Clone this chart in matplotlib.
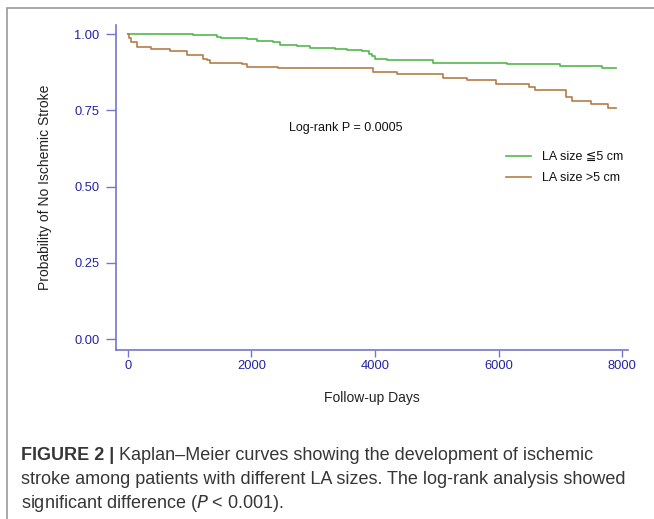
import matplotlib.pyplot as plt
from matplotlib.patches import Rectangle

# Kaplan-Meier step data (days, survival)
small_days = [0, 1050, 1440, 1500, 1570, 1930, 2090, 2350, 2460, 2740, 2950, 3240,
              3350, 3550, 3790, 3900, 3950, 4000, 4190, 4940, 6140, 6990, 7680, 7900]
small_surv = [1.0, 0.997, 0.992, 0.988, 0.986, 0.984, 0.979, 0.975, 0.966, 0.962, 0.956, 0.953,
              0.950, 0.947, 0.944, 0.935, 0.927, 0.920, 0.916, 0.907, 0.901, 0.896, 0.890, 0.890]

large_days = [0, 20, 50, 140, 380, 680, 950, 1215, 1275, 1330, 1840, 1920, 2430,
              3970, 4350, 5100, 5490, 5960, 6500, 6590, 7090, 7185, 7500, 7780, 7900]
large_surv = [1.0, 0.986, 0.975, 0.958, 0.951, 0.944, 0.931, 0.920, 0.915, 0.907, 0.901, 0.893, 0.888,
              0.876, 0.868, 0.857, 0.848, 0.835, 0.827, 0.816, 0.794, 0.780, 0.770, 0.758, 0.758]

labels = ['LA size \u22665 cm', 'LA size >5 cm']
xticks = [0, 2000, 4000, 6000, 8000]
yticks = [0.0, 0.25, 0.5, 0.75, 1.0]

plt.rcParams['font.family'] = ['Liberation Sans', 'DejaVu Sans']

W, H = 654, 519
fig = plt.figure(figsize=(W / 100, H / 100), dpi=100)

# grey frame around the figure panel
fig.patches.append(Rectangle((7 / W, -0.1), 1.2, 1 - 8 / H + 0.1, transform=fig.transFigure,
                             fill=False, edgecolor='#9a9a9a', linewidth=1.2))

ax = fig.add_axes([116 / W, 1 - 350 / H, 512 / W, 325 / H])

green = '#52b84e'
brown = '#b57b4a'
ax.step(small_days, small_surv, where='post', color=green, linewidth=1.2, label=labels[0])
ax.step(large_days, large_surv, where='post', color=brown, linewidth=1.2, label=labels[1])

ax.set_xlim(-194, 8097)
ax.set_ylim(-0.036, 1.03)
ax.set_xticks(xticks)
ax.set_yticks(yticks)
ax.set_yticklabels(['%.2f' % v for v in yticks])

spine_col = '#7676c8'
for s in ['top', 'right']:
    ax.spines[s].set_visible(False)
for s in ['left', 'bottom']:
    ax.spines[s].set_color(spine_col)
    ax.spines[s].set_linewidth(1.2)
ax.tick_params(axis='both', colors=spine_col, labelcolor='#2323a0', labelsize=9.3,
               width=1.0)
ax.tick_params(axis='y', length=7, pad=5)
ax.tick_params(axis='x', length=5, pad=2)

ax.set_xlabel('Follow-up Days', fontsize=10, color='#222222', labelpad=14)
ax.set_ylabel('Probability of No Ischemic Stroke', fontsize=10, color='#222222', labelpad=16)

ax.text(3530, 0.692, 'Log-rank P = 0.0005', fontsize=9, ha='center', va='center',
        color='#111111')

leg = ax.legend(loc='upper left', bbox_to_anchor=(495 / W, 1 - 140 / H),
                bbox_transform=fig.transFigure, frameon=False, fontsize=9,
                handlelength=2.0, handletextpad=0.9, labelspacing=0.7)
for t in leg.get_texts():
    t.set_color('#111111')

# caption
cap_col = '#363636'
cap_fs = 13.0
bold = fig.text(21 / W, 1 - 455 / H, 'FIGURE 2 |', fontsize=cap_fs, fontweight='bold',
                color=cap_col, va='center', ha='left')
r = fig.canvas.get_renderer()
bx = bold.get_window_extent(r).x1
fig.text((bx + 5) / W, 1 - 455 / H, 'Kaplan\u2013Meier curves showing the development of ischemic',
         fontsize=cap_fs, color=cap_col, va='center', ha='left')
fig.text(21 / W, 1 - 480 / H,
         'stroke among patients with different LA sizes. The log-rank analysis showed',
         fontsize=cap_fs, color=cap_col, va='center', ha='left')
fig.text(21 / W, 1 - 503 / H, 'significant difference ($P$ < 0.001).',
         fontsize=cap_fs, color=cap_col, va='center', ha='left')

fig.savefig('out.png', dpi=100)
